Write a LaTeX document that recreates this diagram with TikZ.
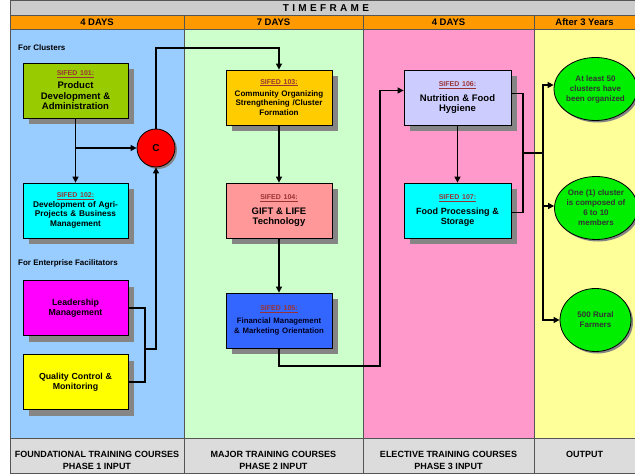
\documentclass[tikz,border=0pt]{standalone}
\usepackage{fontspec}
\setmainfont{Liberation Sans}
\usetikzlibrary{shapes.geometric,shadows,arrows.meta}
\definecolor{topgray}{HTML}{CCCCCC}
\definecolor{botgray}{HTML}{DCDCDC}
\definecolor{hdrorange}{HTML}{FF9900}
\definecolor{colA}{HTML}{99CCFF}
\definecolor{colB}{HTML}{CCFFCC}
\definecolor{colC}{HTML}{FF99CC}
\definecolor{colD}{HTML}{FFFF99}
\definecolor{cgreen}{HTML}{99CC00}
\definecolor{ccyan}{HTML}{00FFFF}
\definecolor{cmag}{HTML}{FF00FF}
\definecolor{cyel}{HTML}{FFFF00}
\definecolor{corange}{HTML}{FFCC00}
\definecolor{cpink}{HTML}{FF9999}
\definecolor{cblue}{HTML}{3366FF}
\definecolor{clav}{HTML}{CCCCFF}
\definecolor{cout}{HTML}{00EE00}
\definecolor{sifedred}{HTML}{993333}
\definecolor{shadowgray}{HTML}{858585}
\definecolor{divline}{HTML}{555555}
\newcommand{\sifedlbl}[1]{{\fontsize{7}{8}\selectfont\color{sifedred}\underline{#1}}}
\tikzset{
  box/.style={draw=black, line width=0.8pt, minimum width=105pt, minimum height=55pt,
    text width=102pt, align=center, inner sep=1pt,
    font=\bfseries\fontsize{8.3}{9.8}\selectfont,
    drop shadow={shadow xshift=6pt, shadow yshift=-6pt, fill=shadowgray, opacity=1}},
  outcome/.style={ellipse, draw=black, line width=0.8pt, fill=cout, minimum width=71pt,
    minimum height=63pt, inner sep=0pt, align=center, text=black!80,
    font=\bfseries\fontsize{8}{10}\selectfont,
    drop shadow={shadow xshift=2pt, shadow yshift=-2pt, fill=shadowgray, opacity=1}},
  conn/.style={line width=1.3pt, draw=black},
  arr/.style={conn, -{Triangle[length=6pt,width=6pt]}},
  hdr/.style={font=\bfseries\fontsize{9.5}{11}\selectfont, inner sep=0pt},
  foot/.style={font=\bfseries\fontsize{9}{12}\selectfont, align=center, inner sep=0pt},
  lbl/.style={font=\bfseries\fontsize{8}{9}\selectfont, anchor=west, inner sep=0pt}
}
\begin{document}
\begin{tikzpicture}[x=1pt,y=-1pt]
\useasboundingbox (0,0) rectangle (635,476);
\fill[white] (0,0) rectangle (635,476);
% bands
\fill[topgray] (10,1) rectangle (635,15);
\fill[hdrorange] (10,15) rectangle (635,29);
\fill[colA] (10,29) rectangle (184,438);
\fill[colB] (184,29) rectangle (363,438);
\fill[colC] (363,29) rectangle (534,438);
\fill[colD] (534,29) rectangle (635,438);
\fill[botgray] (10,438) rectangle (635,473);
% lines
\draw[divline, line width=1.2pt] (10,0.6) -- (635,0.6);
\draw[divline, line width=0.6pt] (10,15) -- (635,15);
\draw[divline, line width=0.6pt] (10,29) -- (635,29);
\draw[divline, line width=0.6pt] (10,438) -- (635,438);
\draw[divline, line width=0.8pt] (10,473) -- (635,473);
\draw[divline, line width=0.6pt] (10,0.6) -- (10,473);
\foreach \xx in {184,363,534} \draw[divline, line width=0.6pt] (\xx,15) -- (\xx,473);
% header texts
\node[hdr, font=\bfseries\fontsize{10}{11}\selectfont] (tf) at (326,8) {T\,\,I\,\,M\,\,E\,\,F\,\,R\,\,A\,\,M\,\,E};
\node[hdr] (h1) at (97,22) {4 DAYS};
\node[hdr] (h2) at (273.5,22) {7 DAYS};
\node[hdr] (h3) at (448.5,22) {4 DAYS};
\node[hdr] (h4) at (584.5,22) {After 3 Years};
% footer texts
\node[foot] (f1) at (97,460) {FOUNDATIONAL TRAINING COURSES\\PHASE 1 INPUT};
\node[foot] (f2) at (273.5,460) {MAJOR TRAINING COURSES\\PHASE 2 INPUT};
\node[foot] (f3) at (448.5,460) {ELECTIVE TRAINING COURSES\\PHASE 3 INPUT};
\node[foot] (f4) at (584.5,454) {OUTPUT};
% section labels
\node[lbl] (lc) at (18,48) {For Clusters};
\node[lbl] (le) at (18,263) {For Enterprise Facilitators};
% boxes column 1
\node[box, fill=cgreen] (b101) at (75.5,90.5) {\sifedlbl{SIFED 101:}\\[1pt]{\fontsize{9.5}{11.5}\selectfont Product\\Development \&\\Administration}};
\node[box, fill=ccyan] (b102) at (75.5,210.5) {\sifedlbl{SIFED 102:}\\Development of Agri-\\Projects \& Business\\Management};
\node[box, fill=cmag] (blead) at (75.5,308) {{\fontsize{8.8}{11.5}\selectfont Leadership\\Management}};
\node[box, fill=cyel] (bqc) at (75.5,382) {{\fontsize{8.8}{11.5}\selectfont Quality Control \&\\Monitoring}};
\node[circle, draw=black, line width=0.8pt, fill=red, minimum size=38pt, inner sep=0pt,
  font=\bfseries\fontsize{10}{11}\selectfont,
  drop shadow={shadow xshift=2pt, shadow yshift=-2pt, fill=shadowgray, opacity=1}] (C) at (156,148) {C};
% column 2
\node[box, fill=corange, minimum width=106pt] (b103) at (279,97.5) {\sifedlbl{SIFED 103:}\\[2pt]{\fontsize{8}{9.8}\selectfont Community Organizing\\Strengthening /Cluster\\Formation}};
\node[box, fill=cpink, minimum width=106pt] (b104) at (279,210.5) {\sifedlbl{SIFED 104:}\\[3pt]{\fontsize{9.5}{11.5}\selectfont GIFT \& LIFE\\Technology}};
\node[box, fill=cblue, minimum width=106pt, text={black!70!blue!40!black}] (b105) at (279,320.5) {\sifedlbl{SIFED 105:}\\[3pt]{\fontsize{7.8}{9.5}\selectfont Financial Management\\\& Marketing Orientation}};
% column 3
\node[box, fill=clav, minimum width=107pt] (b106) at (457.5,97.5) {\sifedlbl{SIFED 106:}\\[3pt]{\fontsize{9.5}{11.5}\selectfont Nutrition \& Food\\Hygiene}};
\node[box, fill=ccyan, minimum width=107pt] (b107) at (457.5,210.5) {\sifedlbl{SIFED 107:}\\[4pt]{\fontsize{9}{11.5}\selectfont Food Processing \&\\Storage}};
% outputs
\node[outcome] (o1) at (595.5,89) {At least 50\\clusters have\\been organized};
\node[outcome] (o2) at (596,208) {One (1) cluster\\is composed of\\6 to 10\\members};
\node[outcome] (o3) at (595.5,320) {500 Rural\\Farmers};
% connectors
\coordinate (m) at (145,349);
\coordinate (tline) at (0,48);
\coordinate (r) at (380,366);
\coordinate (s1) at (523,153);
\coordinate (s2) at (543,153);
\draw[arr] (b101) -- (b102);
\draw[arr] (b101.south |- C) -- (C.west);
\draw[conn] (blead.east) -| (m);
\draw[conn] (m) |- (bqc.east);
\draw[arr] (m) -| (C.south);
\draw[arr] (C.north) -- (C.north |- tline) -| (b103.north);
\draw[arr] (b103) -- (b104);
\draw[arr] (b104) -- (b105);
\draw[arr] (b105.south) |- (r) |- ([yshift=7pt]b106.west);
\draw[arr] (b106) -- (b107);
\draw[conn] ([yshift=4pt]b106.east) -| (s1);
\draw[conn] (s1) |- ([yshift=-2pt]b107.east);
\draw[conn] (s1) -- (s2);
\draw[arr] (s2) |- ([yshift=4pt]o1.west);
\draw[arr] (s2) |- ([yshift=2pt]o2.west);
\draw[arr] (s2) |- (o3.west);
\end{tikzpicture}
\end{document}
